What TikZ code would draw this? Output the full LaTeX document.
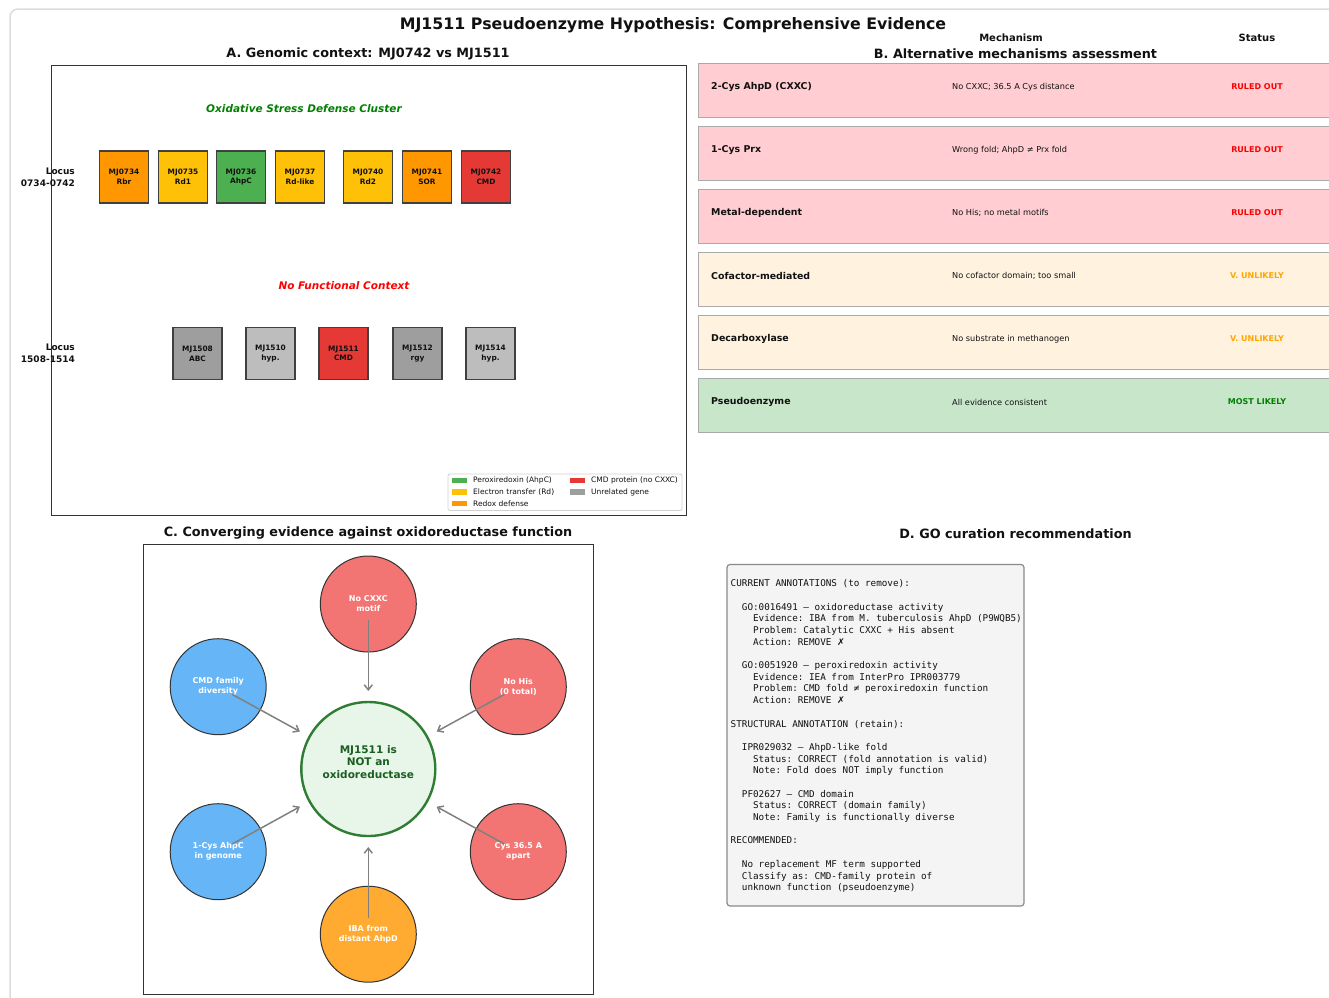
\documentclass[tikz,border=0pt]{standalone}
\usepackage{fontspec}
\setmainfont{DejaVu Sans}
\setmonofont{DejaVu Sans Mono}
\newfontfamily\pzsym{DejaVu Sans}
\usetikzlibrary{arrows.meta}
\definecolor{pzInk}{HTML}{111111}
\definecolor{pzFrame}{HTML}{DCDCDC}
\definecolor{pzGreenTxt}{HTML}{008000}
\definecolor{pzRedTxt}{HTML}{FF0000}
\definecolor{pzOrangeTxt}{HTML}{FFA500}
\definecolor{pzRedox}{HTML}{FF9800}
\definecolor{pzRd}{HTML}{FFC107}
\definecolor{pzPrx}{HTML}{4CAF50}
\definecolor{pzCMD}{HTML}{E53935}
\definecolor{pzUnrel}{HTML}{9E9E9E}
\definecolor{pzHyp}{HTML}{BDBDBD}
\definecolor{pzPink}{HTML}{FFCDD2}
\definecolor{pzCream}{HTML}{FFF3E0}
\definecolor{pzMint}{HTML}{C8E6C9}
\definecolor{pzRowEdge}{HTML}{AAAAAA}
\definecolor{pzCircRed}{HTML}{F27573}
\definecolor{pzCircBlue}{HTML}{66B6F7}
\definecolor{pzCircOrange}{HTML}{FFAA30}
\definecolor{pzHubFill}{HTML}{E8F5E9}
\definecolor{pzHubEdge}{HTML}{2E7D32}
\definecolor{pzHubText}{HTML}{1B5E20}
\definecolor{pzArrow}{HTML}{808080}
\definecolor{pzNoteFill}{HTML}{F4F4F4}
\definecolor{pzNoteEdge}{HTML}{8A8A8A}
\newcommand{\pzfont}[2]{\fontsize{#1}{#2}\selectfont}
\tikzset{
  every picture/.style={text=pzInk},
  pz frame/.style={draw=pzFrame, line width=1.5pt, rounded corners=8pt},
  pz title/.style={font=\pzfont{15.8}{19}\bfseries, inner sep=0pt},
  pz panel/.style={font=\pzfont{12.8}{15}\bfseries, inner sep=0pt},
  pz axes/.style={draw=black!80, line width=0.9pt},
  gene box/.style={draw=black!75, line width=1.2pt, minimum width=49pt,
    minimum height=52pt, inner sep=0pt, align=center,
    font=\pzfont{7.4}{9.6}\bfseries},
  locus label/.style={align=right, anchor=east, inner sep=0pt,
    font=\pzfont{9}{11.6}\bfseries},
  cluster note/.style={font=\pzfont{10.5}{12}\bfseries\itshape, inner sep=0pt},
  legend box/.style={draw=black!18, fill=white, rounded corners=2pt, line width=0.8pt},
  legend patch/.style={minimum width=15pt, minimum height=5.5pt, inner sep=0pt},
  legend text/.style={anchor=west, inner sep=0pt, font=\pzfont{7.5}{9}},
  mech head/.style={font=\pzfont{10}{12}\bfseries, inner sep=0pt},
  mech row/.style={draw=pzRowEdge, line width=1pt},
  mech name/.style={anchor=west, inner sep=0pt, font=\pzfont{9.4}{11}\bfseries},
  mech why/.style={anchor=west, inner sep=0pt, font=\pzfont{8.2}{10}},
  mech status/.style={inner sep=0pt, font=\pzfont{8}{10}\bfseries},
  evidence/.style={circle, draw=black!80, line width=1pt, minimum size=96pt,
    inner sep=0pt, align=center, text=white, font=\pzfont{8}{10}\bfseries},
  hub/.style={circle, draw=pzHubEdge, fill=pzHubFill, line width=2.4pt,
    minimum size=134pt, inner sep=0pt},
  hub text/.style={align=center, inner sep=0pt, text=pzHubText,
    font=\pzfont{10.5}{12.2}\bfseries},
  converge/.style={-{Straight Barb[length=5pt,width=8pt]}, draw=pzArrow,
    line width=1.5pt, shorten <=16pt, shorten >=78pt},
  note box/.style={draw=pzNoteEdge, fill=pzNoteFill, line width=1.2pt, rounded corners=3pt},
  note text/.style={anchor=north west, align=left, inner sep=0pt,
    font=\ttfamily\pzfont{9.3}{11.69}}
}

\begin{document}
\begin{tikzpicture}[x=1pt,y=-1pt]
  \useasboundingbox (0,0) rectangle (1329,997);
  \clip (0,0) rectangle (1329,997);
  \draw[pz frame] (10,9) rectangle (1360,1030);
  \node[pz title] (title) at (673,25) {MJ1511 Pseudoenzyme Hypothesis: Comprehensive Evidence};

  \node[pz panel] (titleA) at (368,53.5) {A. Genomic context: MJ0742 vs MJ1511};
  \draw[pz axes] (51,65) rectangle (686,515);
  \node[cluster note, text=pzGreenTxt] (clusterA) at (304,109) {Oxidative Stress Defense Cluster};
  \node[locus label] (locusA) at (75,177) {Locus\\0734-0742};
  \node[gene box, fill=pzRedox] (g0734) at (124,177) {MJ0734\\Rbr};
  \node[gene box, fill=pzRd] (g0735) at (183,177) {MJ0735\\Rd1};
  \node[gene box, fill=pzPrx] (g0736) at (241,177) {MJ0736\\AhpC};
  \node[gene box, fill=pzRd] (g0737) at (300,177) {MJ0737\\Rd-like};
  \node[gene box, fill=pzRd] (g0740) at (368,177) {MJ0740\\Rd2};
  \node[gene box, fill=pzRedox] (g0741) at (427,177) {MJ0741\\SOR};
  \node[gene box, fill=pzCMD] (g0742) at (486,177) {MJ0742\\CMD};

  \node[cluster note, text=pzRedTxt] (clusterB) at (344,286) {No Functional Context};
  \node[locus label] (locusB) at (75,353) {Locus\\1508-1514};
  \node[gene box, fill=pzUnrel] (g1508) at (197.5,353.5) {MJ1508\\ABC};
  \node[gene box, fill=pzHyp] (g1510) at (270.5,353.5) {MJ1510\\hyp.};
  \node[gene box, fill=pzCMD] (g1511) at (343.5,353.5) {MJ1511\\CMD};
  \node[gene box, fill=pzUnrel] (g1512) at (417.5,353.5) {MJ1512\\rgy};
  \node[gene box, fill=pzHyp] (g1514) at (490.5,353.5) {MJ1514\\hyp.};

  \draw[legend box] (448,474) rectangle (682,510.5);
  \node[legend patch, fill=pzPrx] (legPrx) at (459.5,480.5) {};
  \node[legend text] (legPrxT) at (473,480.5) {Peroxiredoxin (AhpC)};
  \node[legend patch, fill=pzRd] (legRd) at (459.5,492) {};
  \node[legend text] (legRdT) at (473,492) {Electron transfer (Rd)};
  \node[legend patch, fill=pzRedox] (legRedox) at (459.5,503.5) {};
  \node[legend text] (legRedoxT) at (473,503.5) {Redox defense};
  \node[legend patch, fill=pzCMD] (legCMD) at (577.5,480.5) {};
  \node[legend text] (legCMDT) at (591,480.5) {CMD protein (no CXXC)};
  \node[legend patch, fill=pzUnrel] (legUnrel) at (577.5,492) {};
  \node[legend text] (legUnrelT) at (591,492) {Unrelated gene};

  \node[mech head] (headMech) at (1011,38) {Mechanism};
  \node[mech head] (headStatus) at (1257,38) {Status};
  \node[pz panel] (titleB) at (1015.5,53.5) {B. Alternative mechanisms assessment};
  \draw[mech row, fill=pzPink] (698,63.5) rectangle (1360,117);
  \node[mech name] (m1) at (711,87) {2-Cys AhpD (CXXC)};
  \node[mech why] (w1) at (952,87) {No CXXC; 36.5 A Cys distance};
  \node[mech status, text=pzRedTxt] (s1) at (1257,87) {RULED OUT};
  \draw[mech row, fill=pzPink] (698,126) rectangle (1360,180);
  \node[mech name] (m2) at (711,150) {1-Cys Prx};
  \node[mech why] (w2) at (952,150) {Wrong fold; AhpD ≠ Prx fold};
  \node[mech status, text=pzRedTxt] (s2) at (1257,150) {RULED OUT};
  \draw[mech row, fill=pzPink] (698,189) rectangle (1360,243);
  \node[mech name] (m3) at (711,213) {Metal-dependent};
  \node[mech why] (w3) at (952,213) {No His; no metal motifs};
  \node[mech status, text=pzRedTxt] (s3) at (1257,213) {RULED OUT};
  \draw[mech row, fill=pzCream] (698,252) rectangle (1360,306);
  \node[mech name] (m4) at (711,276) {Cofactor-mediated};
  \node[mech why] (w4) at (952,276) {No cofactor domain; too small};
  \node[mech status, text=pzOrangeTxt] (s4) at (1257,276) {V. UNLIKELY};
  \draw[mech row, fill=pzCream] (698,315) rectangle (1360,369);
  \node[mech name] (m5) at (711,339) {Decarboxylase};
  \node[mech why] (w5) at (952,339) {No substrate in methanogen};
  \node[mech status, text=pzOrangeTxt] (s5) at (1257,339) {V. UNLIKELY};
  \draw[mech row, fill=pzMint] (698,378) rectangle (1360,432);
  \node[mech name] (m6) at (711,402) {Pseudoenzyme};
  \node[mech why] (w6) at (952,402) {All evidence consistent};
  \node[mech status, text=pzGreenTxt] (s6) at (1257,402) {MOST LIKELY};

  \node[pz panel] (titleC) at (368,533.5) {C. Converging evidence against oxidoreductase function};
  \draw[pz axes] (143.5,544.5) rectangle (593,994);
  \node[hub] (hub) at (368.3,769) {};
  \node[hub text] (hubText) at (368.3,762) {MJ1511 is\\NOT an\\oxidoreductase};
  \node[evidence, fill=pzCircRed] (noCXXC) at (368.3,604) {No CXXC\\motif};
  \node[evidence, fill=pzCircBlue] (cmdDiv) at (218.2,686.7) {CMD family\\diversity};
  \node[evidence, fill=pzCircRed] (noHis) at (518.3,686.7) {No His\\(0 total)};
  \node[evidence, fill=pzCircBlue] (oneCys) at (218.2,851.7) {1-Cys AhpC\\in genome};
  \node[evidence, fill=pzCircRed] (cysDist) at (518.3,851.7) {Cys 36.5 A\\apart};
  \node[evidence, fill=pzCircOrange] (ibaFrom) at (368.3,934.2) {IBA from\\distant AhpD};
  \draw[converge] (noCXXC.center) -- (hub.center);
  \draw[converge] (cmdDiv.center) -- (hub.center);
  \draw[converge] (noHis.center) -- (hub.center);
  \draw[converge] (oneCys.center) -- (hub.center);
  \draw[converge] (cysDist.center) -- (hub.center);
  \draw[converge] (ibaFrom.center) -- (hub.center);

  \node[pz panel] (titleD) at (1015.5,533.5) {D. GO curation recommendation};
  \draw[note box] (727,564.5) rectangle (1024,906);
  \node[note text] (curation) at (730.5,579.5) {CURRENT ANNOTATIONS (to remove):\\[11.69pt]
~~GO:0016491 – oxidoreductase activity\\
~~~~Evidence: IBA from M. tuberculosis AhpD (P9WQB5)\\
~~~~Problem: Catalytic CXXC + His absent\\
~~~~Action: REMOVE {\pzsym ✗}\\[11.69pt]
~~GO:0051920 – peroxiredoxin activity\\
~~~~Evidence: IEA from InterPro IPR003779\\
~~~~Problem: CMD fold ≠ peroxiredoxin function\\
~~~~Action: REMOVE {\pzsym ✗}\\[11.69pt]
STRUCTURAL ANNOTATION (retain):\\[11.69pt]
~~IPR029032 – AhpD-like fold\\
~~~~Status: CORRECT (fold annotation is valid)\\
~~~~Note: Fold does NOT imply function\\[11.69pt]
~~PF02627 – CMD domain\\
~~~~Status: CORRECT (domain family)\\
~~~~Note: Family is functionally diverse\\[11.69pt]
RECOMMENDED:\\[11.69pt]
~~No replacement MF term supported\\
~~Classify as: CMD-family protein of\\
~~unknown function (pseudoenzyme)};
\end{tikzpicture}
\end{document}
